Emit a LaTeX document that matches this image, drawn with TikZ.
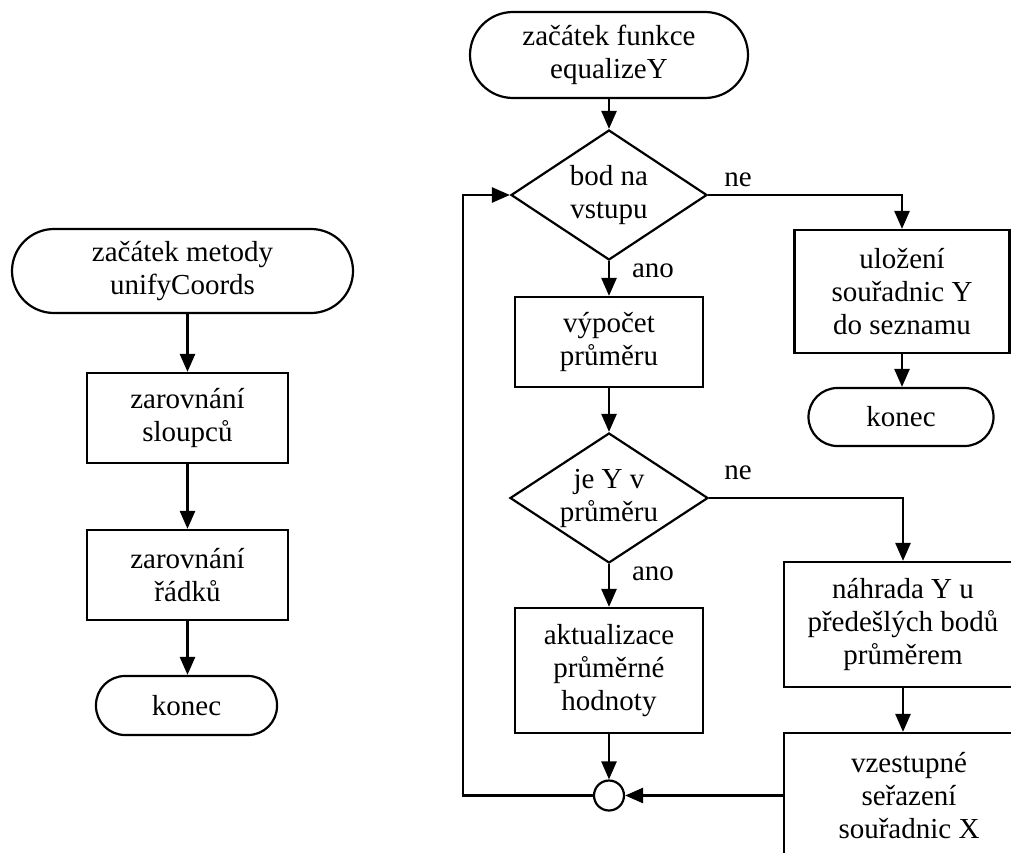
\documentclass[tikz,border=0pt]{standalone}
\usepackage{fontspec}
\setmainfont{Liberation Serif}
\usetikzlibrary{shapes.geometric,arrows.meta}

\begin{document}
\begin{tikzpicture}[x=1pt,y=-1pt,
  every node/.style={font=\fontsize{29}{33}\selectfont, align=center, inner sep=0pt},
  shape line/.style={draw=black, line width=2.2pt},
  terminal/.style={shape line, rectangle, rounded corners=#1},
  procbox/.style={shape line, rectangle},
  decision/.style={shape line, diamond, aspect=1.5},
  junction/.style={shape line, circle, minimum size=30pt},
  flow/.style={line width=2.6pt, -{Triangle[length=18pt,width=15pt]}},
  branch/.style={font=\fontsize{29}{33}\selectfont}
]
\useasboundingbox (0,0) rectangle (1011,853);
\clip (0,0) rectangle (1011,853);

% --- method unifyCoords ---
\node[terminal=42pt, minimum width=341pt, minimum height=84pt] (s1) at (182.5,271) {začátek metody\\unifyCoords};
\node[procbox, minimum width=201pt, minimum height=90pt] (b1) at (187.5,418) {zarovnání\\sloupců};
\node[procbox, minimum width=201pt, minimum height=90pt] (b2) at (187.5,575) {zarovnání\\řádků};
\node[terminal=29pt, minimum width=181pt, minimum height=59pt] (e1) at (186.5,705.5) {konec};

\draw[flow] (s1.south -| b1.north) -- (b1.north);
\draw[flow] (b1) -- (b2);
\draw[flow] (b2.south) -- (b2.south |- e1.north);

% --- function equalizeY ---
\node[terminal=43pt, minimum width=278pt, minimum height=86pt] (s2) at (609,55) {začátek funkce\\equalizeY};
\node[decision, minimum width=196pt, minimum height=130pt] (d1) at (609,195) {bod na\\vstupu};
\node[procbox, minimum width=188pt, minimum height=90pt] (p1) at (609,342) {výpočet\\průměru};
\node[decision, minimum width=198pt, minimum height=130pt] (d2) at (609,498) {je Y v\\průměru};
\node[procbox, minimum width=188pt, minimum height=125pt] (p2) at (609,670.5) {aktualizace\\průměrné\\hodnoty};
\node[junction] (j) at (609,795.5) {};

\node[procbox, minimum width=215pt, minimum height=123pt] (u1) at (902,291.5) {uložení\\souřadnic Y\\do seznamu};
\node[terminal=29pt, minimum width=185pt, minimum height=58pt] (e2) at (901,417) {konec};
\node[procbox, minimum width=238pt, minimum height=125pt] (n1) at (903,624.5) {náhrada Y u\\předešlých bodů\\průměrem};
\node[procbox, minimum width=250pt, minimum height=125pt] (n2) at (909,795.5) {vzestupné\\seřazení\\souřadnic X};

\coordinate (loop) at (463,795.5);

\draw[flow] (s2) -- (d1);
\draw[flow] (d1) -- (p1);
\draw[flow] (p1) -- (d2);
\draw[flow] (d2) -- (p2);
\draw[flow] (p2) -- (j);
\draw[flow] (d1.east) -| (u1.north);
\draw[flow] (u1) -- (u1.south |- e2.north);
\draw[flow] (d2.east) -| (n1.north);
\draw[flow] (n1.south) -- (n1.south |- n2.north);
\draw[flow] (n2.west) -- (j.east);
\draw[flow] (j.west) -- (loop) |- (d1.west);

% branch labels
\node[branch] (ne1) at (738,180) {ne};
\node[branch] (ano1) at (653,271) {ano};
\node[branch] (ne2) at (738,473) {ne};
\node[branch] (ano2) at (653,574) {ano};
\end{tikzpicture}
\end{document}
